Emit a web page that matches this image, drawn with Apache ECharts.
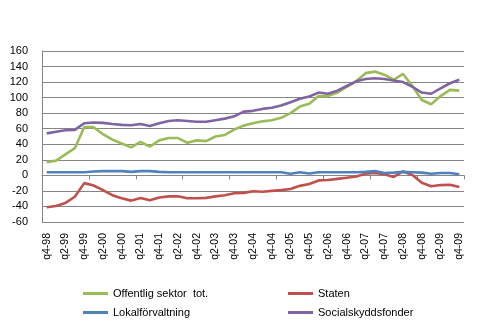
<!DOCTYPE html>
<html><head><meta charset="utf-8">
<script src="https://cdn.jsdelivr.net/npm/echarts@6/dist/echarts.min.js"></script>
<style>html,body{margin:0;padding:0;background:#fff}#c{width:482px;height:331px}</style>
</head><body><div id="c"></div>
<script>
const categories = (function(){
  const out = ['q4-98'];
  for (let y = 99; y <= 109; y++) {
    const yy = String(y % 100).padStart(2, '0');
    for (let q = 1; q <= 4; q++) out.push('q' + q + '-' + yy);
  }
  return out;
})();
const offentlig = [17,19,27,35,62,62,53,46,41,36,43,37,45,48,48,42,45,44,50,52,59,64,67,69.5,71,74,80,88.5,92,102,102,106.5,114,121,131.5,133.5,129.5,123,130.5,115,97,91.5,102,110,109];
const staten = [-41,-39.5,-35.5,-27.5,-10,-13,-19,-25.5,-29.5,-32.5,-29,-32,-28.5,-27,-27,-29.5,-29.5,-29,-27,-25.5,-23,-22.5,-20.5,-21,-20,-19,-17.5,-13.5,-11,-6.5,-6,-4.5,-3,-1.5,2,3,1.5,-2,5,0.5,-9.5,-14,-12.5,-12,-15];
const lokal = [4,4,4,4,4,5,5.5,5.5,5.5,4.5,5.5,5.5,4.5,4,4,4,4,4,4,4,4,4,4,4,4,4,2,4,2.5,4,4,4,4,4,4.5,5.5,3,3.5,4.5,4,3.5,2,3,3,1.5];
const social = [54,56,58,58.5,67,68,67.5,66,65,64.5,66,63.5,67,70,71,70,69,69,71,73,76,82,83,85.5,87,90,94,98.5,101.5,106.5,105,109,115,121,124,125,124,122,120,114,106.5,105,112,118.5,123];
const yTicks = {min: -60, max: 160, interval: 20};

const font = 'Liberation Sans, Arial, sans-serif';
const chart = echarts.init(document.getElementById('c'), null, {renderer: 'canvas'});
function line(name, data, color) {
  return {name, type: 'line', data, showSymbol: false, symbol: 'none', smooth: false,
    lineStyle: {color, width: 2.6}, itemStyle: {color}, xAxisIndex: 0, animation: false};
}
chart.setOption({
  animation: false,
  grid: {left: 42, right: 18, top: 51, bottom: 109, containLabel: false},
  legend: [
    {left: 78, top: 283, orient: 'vertical', itemGap: 8, itemWidth: 25, itemHeight: 3, icon: 'rect',
     textStyle: {fontFamily: font, fontSize: 11, color: '#000'}, data: ['Offentlig sektor  tot.', 'Lokalförvaltning']},
    {left: 283, top: 283, orient: 'vertical', itemGap: 8, itemWidth: 25, itemHeight: 3, icon: 'rect',
     textStyle: {fontFamily: font, fontSize: 11, color: '#000'}, data: ['Staten', 'Socialskyddsfonder']}
  ],
  xAxis: [
    {type: 'category', data: categories, boundaryGap: true, position: 'bottom',
     axisLine: {show: false, onZero: false}, axisTick: {show: false}, splitLine: {show: false},
     axisLabel: {interval: 1, rotate: 90, margin: 11, fontFamily: font, fontSize: 10.5, color: '#000'}},
    {type: 'category', data: categories, boundaryGap: true, position: 'bottom',
     axisLine: {show: true, onZero: true, lineStyle: {color: '#868686', width: 1}},
     axisTick: {show: true, length: 4, inside: false, lineStyle: {color: '#868686'}},
     axisLabel: {show: false}, splitLine: {show: false}}
  ],
  yAxis: {type: 'value', min: yTicks.min, max: yTicks.max, interval: yTicks.interval,
    axisLine: {show: true, lineStyle: {color: '#868686'}}, axisTick: {show: false},
    axisLabel: {fontFamily: font, fontSize: 11, color: '#000', margin: 14},
    splitLine: {show: true, lineStyle: {color: '#868686', width: 1}}},
  series: [
    line('Offentlig sektor  tot.', offentlig, '#9BBB59'),
    line('Staten', staten, '#C0504D'),
    line('Lokalförvaltning', lokal, '#4F81BD'),
    line('Socialskyddsfonder', social, '#8064A2')
  ]
});
</script></body></html>
